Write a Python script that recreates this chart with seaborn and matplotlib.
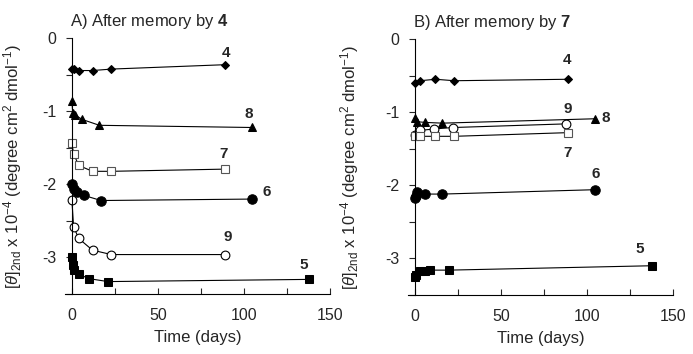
import numpy as np
import matplotlib
matplotlib.use('Agg')
import matplotlib.pyplot as plt
import seaborn as sns

# Panel A: after memory by 4
a_x4 = [0, 1, 4, 12, 23, 89]
a_y4 = [-0.42, -0.42, -0.44, -0.44, -0.42, -0.36]
a_x8 = [0, 0.5, 2, 6, 16, 105]
a_y8 = [-0.86, -1.02, -1.05, -1.11, -1.19, -1.22]
a_x7 = [0, 1, 4, 12, 23, 89]
a_y7 = [-1.43, -1.58, -1.74, -1.82, -1.82, -1.79]
a_x6 = [0, 1, 3, 7, 17, 105]
a_y6 = [-1.99, -2.06, -2.10, -2.15, -2.22, -2.20]
a_x9 = [0, 1, 4, 12, 23, 89]
a_y9 = [-2.21, -2.58, -2.74, -2.90, -2.96, -2.96]
a_x5 = [0, 0.5, 1.5, 4, 10, 21, 138]
a_y5 = [-2.99, -3.10, -3.17, -3.23, -3.29, -3.33, -3.30]

# Panel B: after memory by 7
b_x4 = [0, 3, 12, 23, 89]
b_y4 = [-0.60, -0.57, -0.55, -0.57, -0.55]
b_x8 = [0, 1, 6, 16, 105]
b_y8 = [-1.08, -1.13, -1.14, -1.15, -1.09]
b_x9 = [0, 3, 11, 22, 88]
b_y9 = [-1.31, -1.25, -1.23, -1.21, -1.16]
b_x7 = [0, 3, 12, 23, 89]
b_y7 = [-1.33, -1.33, -1.33, -1.33, -1.28]
b_x6 = [0, 0.5, 1, 6, 16, 105]
b_y6 = [-2.18, -2.14, -2.09, -2.12, -2.12, -2.06]
b_x5 = [0, 0.5, 3, 6, 9, 20, 138]
b_y5 = [-3.26, -3.22, -3.17, -3.17, -3.16, -3.16, -3.10]

# series labels and where they sit
a_labels = ['4', '8', '7', '6', '9', '5']
a_label_x = [89.4, 103, 88.5, 113.5, 90.9, 135]
a_label_y = [-0.20, -1.04, -1.58, -2.10, -2.72, -3.10]
b_labels = ['4', '9', '8', '7', '6', '5']
b_label_x = [88.8, 88.8, 111, 88.8, 105.4, 131]
b_label_y = [-0.29, -0.95, -1.08, -1.56, -1.85, -2.87]

sns.set_style('white')
plt.rcParams['font.family'] = ['Liberation Sans', 'DejaVu Sans']
plt.rcParams['mathtext.fontset'] = 'custom'
plt.rcParams['mathtext.rm'] = 'Liberation Sans'
plt.rcParams['mathtext.it'] = 'Liberation Sans:italic'
plt.rcParams['mathtext.bf'] = 'Liberation Sans:bold'

styles = {
    '4': dict(marker='D', markersize=4.4, markerfacecolor='black', markeredgecolor='black'),
    '8': dict(marker='^', markersize=6.3, markerfacecolor='black', markeredgecolor='black'),
    '7': dict(marker='s', markersize=6.3, markerfacecolor='white', markeredgecolor='#555555', markeredgewidth=0.8),
    '6': dict(marker='o', markersize=6.8, markerfacecolor='black', markeredgecolor='black'),
    '9': dict(marker='o', markersize=6.3, markerfacecolor='white', markeredgecolor='black', markeredgewidth=0.8),
    '5': dict(marker='s', markersize=6.3, markerfacecolor='black', markeredgecolor='black'),
}

fig = plt.figure(figsize=(6.93, 3.54), dpi=100)
ax_a = fig.add_axes([0.0938, 0.1695, 0.382, 0.722])
ax_b = fig.add_axes([0.5887, 0.1667, 0.382, 0.723])

panel_a = [('4', a_x4, a_y4), ('8', a_x8, a_y8), ('7', a_x7, a_y7),
           ('6', a_x6, a_y6), ('9', a_x9, a_y9), ('5', a_x5, a_y5)]
panel_b = [('4', b_x4, b_y4), ('8', b_x8, b_y8), ('9', b_x9, b_y9),
           ('7', b_x7, b_y7), ('6', b_x6, b_y6), ('5', b_x5, b_y5)]


def draw_panel(ax, series, labels, lx, ly, title, ylab_x):
    for name, xs, ys in series:
        sns.lineplot(x=xs, y=ys, ax=ax, color='black', linewidth=0.8,
                     sort=False, estimator=None, **styles[name])
    for t, x, y in zip(labels, lx, ly):
        ax.text(x, y, t, fontsize=11, fontweight='bold', ha='center', va='center')

    ax.set_xlim(-4, 150)
    ax.set_ylim(-3.5, 0)
    for s in ['top', 'right']:
        ax.spines[s].set_visible(False)
    ax.spines['left'].set_position(('data', 0))
    for s in ['left', 'bottom']:
        ax.spines[s].set_color('black')
        ax.spines[s].set_linewidth(0.8)

    ax.set_xticks([0, 50, 100, 150])
    ax.set_xticks([25, 75, 125], minor=True)
    ax.set_yticks([0, -1, -2, -3])
    ax.set_yticklabels(['0', '-1', '-2', '-3'])
    ax.set_yticks([-0.5, -1.5, -2.5, -3.5], minor=True)
    ax.tick_params(axis='x', which='both', direction='in', length=4, width=0.8,
                   pad=10, labelsize=11.5, bottom=True)
    ax.tick_params(axis='y', which='both', direction='out', length=4, width=0.8,
                   pad=7, labelsize=11.5, left=True)

    ax.set_xlabel('Time (days)', fontsize=12, labelpad=5)
    ax.set_ylabel(r'$[\theta]_{\rm 2nd}$ x 10$^{-4}$ (degree cm$^{2}$ dmol$^{-1}$)',
                  fontsize=12)
    ax.yaxis.set_label_coords(ylab_x, 0.5)
    ax.text(0.02, 1.065, title, transform=ax.transAxes, fontsize=12,
            ha='left', va='center')


draw_panel(ax_a, panel_a, a_labels, a_label_x, a_label_y,
           r'A) After memory by $\bf{4}$', -0.156)
draw_panel(ax_b, panel_b, b_labels, b_label_x, b_label_y,
           r'B) After memory by $\bf{7}$', -0.176)

fig.savefig('out.png', dpi=100)
